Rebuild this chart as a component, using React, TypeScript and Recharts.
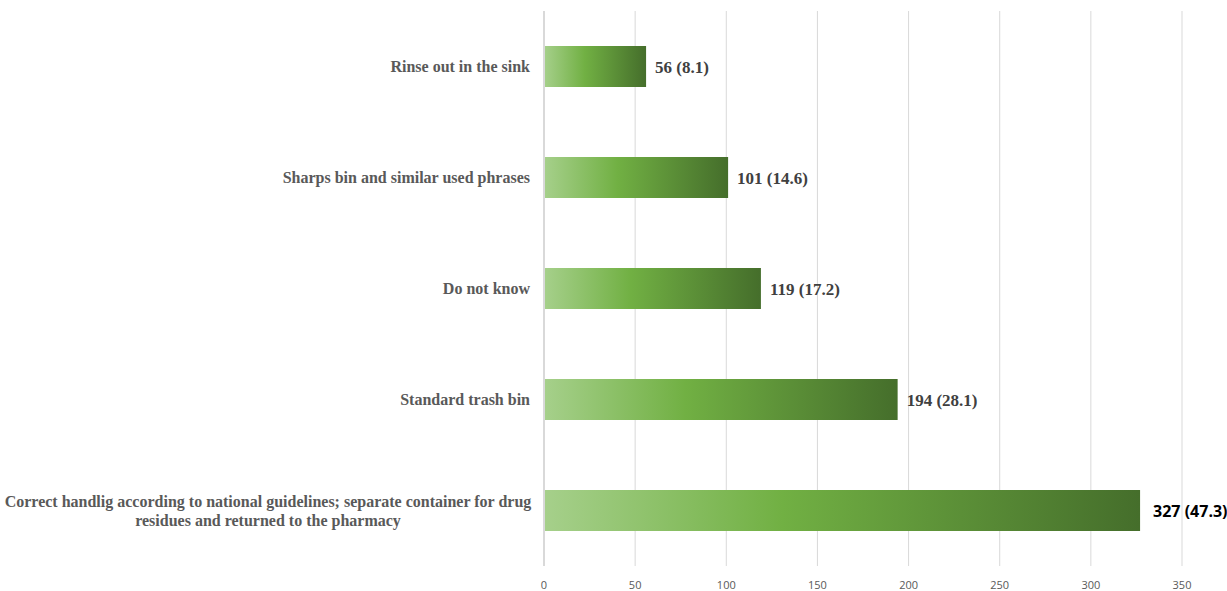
import { Bar, BarChart, CartesianGrid, LabelList, XAxis, YAxis } from 'recharts';

// Disposal methods, count and share (%)
const categories = [
  'Rinse out in the sink',
  'Sharps bin and similar used phrases',
  'Do not know',
  'Standard trash bin',
  'Correct handlig according to national guidelines; separate container for drug residues and returned to the pharmacy',
];
const counts = [56, 101, 119, 194, 327];
const percents = [8.1, 14.6, 17.2, 28.1, 47.3];
const xTicks = [0, 50, 100, 150, 200, 250, 300, 350];

const data = categories.map((name, i) => ({
  name,
  value: counts[i],
  label: `${counts[i]} (${percents[i]})`,
}));

const serif = '"Liberation Serif", "DejaVu Serif", serif';

function CategoryTick({ x, y, payload }: any) {
  const text: string = payload.value;
  const style = { fontFamily: serif, fontWeight: 700, fontSize: 16, fill: '#595959' };
  if (text.length > 60) {
    const cut = text.indexOf(' residues');
    const first = text.slice(0, cut);
    const second = text.slice(cut + 1);
    const cx = x / 2 + 3;
    return (
      <text x={cx} y={y} textAnchor="middle" style={style}>
        <tspan x={cx} dy={-4}>{first}</tspan>
        <tspan x={cx} dy={19}>{second}</tspan>
      </text>
    );
  }
  return (
    <text x={x} y={y} dy={5} textAnchor="end" style={style}>
      {text}
    </text>
  );
}

function ValueLabel({ x, y, width, height, value, index }: any) {
  const last = index === data.length - 1;
  return (
    <text
      x={x + width + (last ? 13 : 9)}
      y={y + height / 2}
      dy={6}
      textAnchor="start"
      style={{
        fontFamily: last ? '"Open Sans", "Liberation Sans", sans-serif' : serif,
        fontWeight: 700,
        fontSize: last ? 16 : 17,
        fill: last ? '#000000' : '#404040',
      }}
    >
      {value}
    </text>
  );
}

export default function App() {
  return (
    <div style={{ position: 'absolute', left: 0, top: 0, background: '#fff' }}>
      <BarChart
        width={1227}
        height={591}
        layout="vertical"
        data={data}
        margin={{ top: 11, right: 45, bottom: 5, left: 0 }}
        barCategoryGap={35}
      >
        <defs>
          <linearGradient id="greenGrad" x1="0" y1="0" x2="1" y2="0">
            <stop offset="0%" stopColor="#a6d08b" />
            <stop offset="40%" stopColor="#71b043" />
            <stop offset="100%" stopColor="#456e2b" />
          </linearGradient>
        </defs>
        <CartesianGrid horizontal={false} stroke="#d9d9d9" strokeWidth={1} />
        <XAxis
          type="number"
          domain={[0, 350]}
          ticks={xTicks}
          axisLine={false}
          tickLine={false}
          tickMargin={9}
          height={20}
          tick={{ fontSize: 11, fill: '#595959', fontFamily: '"Open Sans", "Liberation Sans", sans-serif' }}
        />
        <YAxis
          type="category"
          dataKey="name"
          width={544}
          axisLine={{ stroke: '#d9d9d9', strokeWidth: 2 }}
          tickLine={false}
          tickMargin={8}
          tick={<CategoryTick />}
        />
        <Bar dataKey="value" fill="url(#greenGrad)" isAnimationActive={false}>
          <LabelList dataKey="label" content={<ValueLabel />} />
        </Bar>
      </BarChart>
    </div>
  );
}
